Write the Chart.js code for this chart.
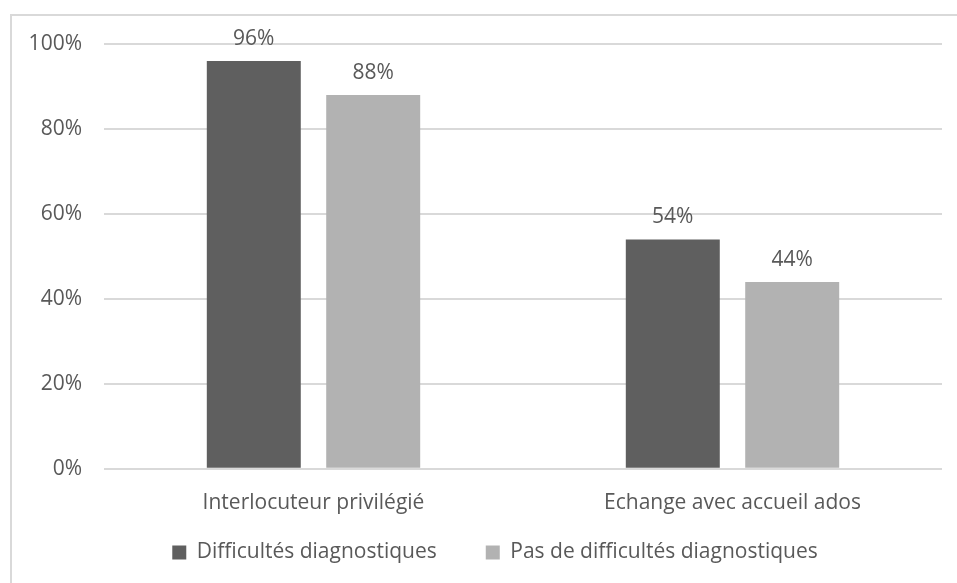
<!DOCTYPE html>
<html>
<head>
<meta charset="utf-8">
<script src="https://cdn.jsdelivr.net/npm/chart.js@4"></script>
<style>
  html, body { margin: 0; padding: 0; background: #fff; }
  #wrap { width: 957px; height: 583px; position: relative; }
</style>
</head>
<body>
<div id="wrap"><canvas id="chart"></canvas></div>
<script>
const categories = ['Interlocuteur privilégié', 'Echange avec accueil ados'];
const seriesNames = ['Difficultés diagnostiques', 'Pas de difficultés diagnostiques'];
const difficultes = [96, 54];
const pasDifficultes = [88, 44];
const yTicks = [0, 20, 40, 60, 80, 100];

const textColor = '#595959';
const fontFamily = '"Open Sans", "Liberation Sans", sans-serif';
const fontSize = 21;
const xAxisTrim = 37;

// frame around the whole chart, legend nudge, and un-clip the x labels
const framePlugin = {
    id: 'frame',
    afterLayout(chart) {
        chart.legend.left += 24;
        chart.legend.right += 24;
        chart.scales.x.bottom += xAxisTrim;
    },
    beforeDraw(chart) {
        const ctx = chart.ctx;
        ctx.save();
        ctx.strokeStyle = '#d9d9d9';
        ctx.lineWidth = 2;
        ctx.strokeRect(11, 15, 1000, 1000);
        ctx.restore();
    }
};

// value labels above each bar
const valueLabels = {
    id: 'valueLabels',
    afterDatasetsDraw(chart) {
        const ctx = chart.ctx;
        ctx.save();
        ctx.fillStyle = textColor;
        ctx.font = fontSize + 'px ' + fontFamily;
        ctx.textAlign = 'center';
        ctx.textBaseline = 'alphabetic';
        chart.data.datasets.forEach((ds, i) => {
            chart.getDatasetMeta(i).data.forEach((bar, j) => {
                ctx.fillText(ds.data[j] + '%', bar.x, bar.y - 16);
            });
        });
        ctx.restore();
    }
};

new Chart(document.getElementById('chart'), {
    type: 'bar',
    data: {
        labels: categories,
        datasets: [{
            label: seriesNames[0],
            data: difficultes,
            backgroundColor: '#5f5f5f'
        }, {
            label: seriesNames[1],
            data: pasDifficultes,
            backgroundColor: '#b2b2b2'
        }]
    },
    options: {
        responsive: true,
        maintainAspectRatio: false,
        animation: false,
        categoryPercentage: 0.57,
        barPercentage: 0.787,
        layout: { padding: { left: 0, right: 15, top: 44, bottom: 10 } },
        plugins: {
            tooltip: { enabled: false },
            legend: {
                position: 'bottom',
                labels: {
                    color: textColor,
                    font: { family: fontFamily, size: fontSize },
                    boxWidth: 14,
                    boxHeight: 14,
                    padding: 49
                }
            }
        },
        scales: {
            x: {
                grid: { display: false },
                border: { display: false },
                afterFit(axis) { axis.height -= xAxisTrim; },
                ticks: { color: textColor, font: { family: fontFamily, size: fontSize }, padding: 14 }
            },
            y: {
                min: 0,
                max: 100,
                afterBuildTicks(axis) { axis.ticks = yTicks.map(v => ({ value: v })); },
                afterFit(axis) { axis.width = 104; },
                grid: { color: '#d9d9d9', lineWidth: 2, drawTicks: false },
                border: { display: false },
                ticks: {
                    color: textColor,
                    font: { family: fontFamily, size: fontSize },
                    padding: 22,
                    callback: v => v + '%'
                }
            }
        }
    },
    plugins: [framePlugin, valueLabels]
});
</script>
</body>
</html>
